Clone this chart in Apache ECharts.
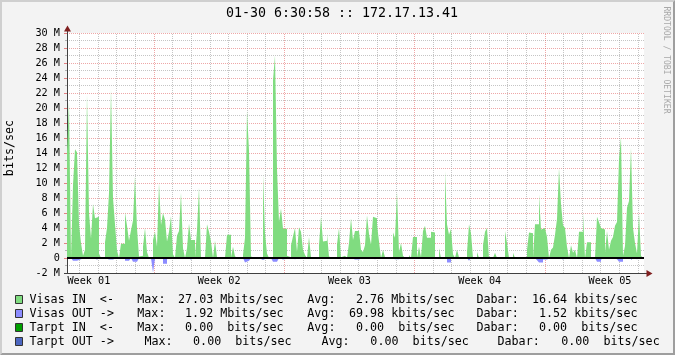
<!DOCTYPE html>
<html><head><meta charset="utf-8">
<script src="https://cdn.jsdelivr.net/npm/echarts@6/dist/echarts.min.js"></script>
<style>html,body{margin:0;padding:0;background:#f3f3f3}#c{width:675px;height:355px}</style>
</head><body><div id="c"></div>
<script>
// ---------------- data ----------------
const titleText = '01-30 6:30:58 :: 172.17.13.41';
const yUnitLabel = 'bits/sec';
const watermarkText = 'RRDTOOL / TOBI OETIKER';
const DAYS_SHOWN = 31;                 // x axis span in days
const SAMPLE_DAYS = 31 / 288.5;        // one sample per 2 px column pair
const FIRST_DAY_BOUNDARY = 0.674;      // days after left edge
const FIRST_WEEK_BOUNDARY = 4.674;
const weekLabels = ['Week 01', 'Week 02', 'Week 03', 'Week 04', 'Week 05'];
const yTickValues = [-2, 0, 2, 4, 6, 8, 10, 12, 14, 16, 18, 20, 22, 24, 26, 28, 30];

// Visas IN (Mbit/s)
const inValues = [
 14.3,20.8,0,9.7,14.5,14.1,4.5,2.0,0.3,1.1, 21.8,6.0,2.6,7.2,5.3,5.5,0.6,0,0,2.1,
 4.0,8.7,22.5,8.0,4.5,1.0,0,1.9,1.9,6.1, 4.3,2.3,3.7,5.0,10.9,4.0,0.2,0.3,1.5,4.0,
 0.8,0,0,2.4,3.5,1.5,10.0,4.4,6.0,5.1, 2.2,3.5,5.6,0.5,0,3.0,3.6,8.7,1.3,0,
 1.3,4.6,2.4,2.4,0.1,3.7,9.4,0,0,0, 4.5,3.5,2.2,0,2.3,0.1,0,0,0,0,
 3.1,3.1,0.1,1.5,0.2,0,0,0,0.4,2.7, 19.6,14.3,0.2,0,0,0,0,0.1,11.1,3.3,
 0.6,0,0.1,23.7,27.0,11.9,4.8,6.6,3.9,3.9, 0.3,0.1,1.7,2.9,4.0,0.8,4.1,3.5,1.1,0.4,
 0,2.8,0.1,0,0,0,1.7,5.5,2.2,2.3, 3.2,0.2,0,0,0,1.8,4.0,0.1,0.3,0.5,
 0,2.0,5.3,2.4,3.6,3.6,3.6,1.1,0.8,1.7, 5.7,3.2,1.8,5.5,5.3,4.5,2.2,0,1.1,0.1,
 0,0,0,3.4,2.7,8.8,0.8,2.0,0.3,0, 0,0.4,0,2.8,2.8,0.1,1.5,0.1,3.6,4.3,
 2.7,2.7,3.5,3.4,0.1,0.1,1.3,0,0,11.6, 4.5,3.1,3.9,0.5,0,1.1,0.1,0,0,0,
 0.8,4.5,3.3,0,0,0.8,0,0,1.7,3.5, 4.0,0,0,0,0.7,0,0,0,0.1,3.6,
 2.0,0,0,0.7,0,0,0,0,0,0, 1.1,3.4,3.3,0.1,4.5,4.5,8.5,3.8,4.0,4.0,
 2.8,0,1.1,1.4,3.1,5.2,12.0,7.2,4.4,4.0, 1.5,0,1.7,0.7,1.1,0,3.5,3.5,6.0,0,
 2.1,2.1,0,0,0,5.5,4.8,4.0,3.8,0.7, 3.6,1.1,2.3,2.8,4.3,4.8,13.2,16.1,0.3,1.6,
 6.7,7.6,14.7,4.0,2.0,0.6,5.9,0.3,0
];
// Visas OUT (Mbit/s, drawn below zero)
const outValues = [
 0,0,0,0.35,0.35,0.35,0.15,0,0,0, 0,0,0,0.2,0.2,0.2,0,0,0,0.2,
 0.2,0.2,0.2,0.2,0,0,0,0,0,0.35, 0.35,0.5,0,0.5,0.5,0.5,0,0,0,0,
 0,0,0,1.92,0.1,0,0,0,0.75,0.75, 0.15,0,0,0,0,0,0,0,0,0,
 0.2,0.2,0.2,0,0,0,0,0,0,0, 0,0,0,0,0,0,0,0,0,0,
 0.15,0,0,0,0,0,0,0,0,0.6, 0.35,0.35,0,0,0,0,0,0.25,0.25,0,
 0,0,0,0.5,0.5,0.35,0,0.2,0.2,0.1, 0,0,0,0.15,0.15,0,0.2,0.1,0,0,
 0,0,0,0,0,0,0.15,0,0,0, 0,0,0,0,0,0,0,0,0,0,
 0,0,0.2,0.2,0.35,0.2,0,0,0,0, 0,0,0,0.15,0,0,0,0,0,0,
 0,0,0,0.15,0.15,0.15,0,0,0,0, 0,0,0,0,0,0,0,0,0,0,
 0,0,0,0,0,0,0,0,0,0, 0.6,0.6,0,0,0,0,0,0,0,0,
 0,0.35,0,0,0,0,0,0,0,0, 0,0,0,0,0,0,0,0,0,0,
 0,0,0,0,0,0,0,0,0,0, 0,0,0,0,0,0.3,0.6,0.6,0.2,0.2,
 0,0,0,0,0,0,0.2,0.2,0,0, 0,0,0,0,0,0,0,0,0.15,0,
 0,0,0,0,0,0.5,0.5,0.2,0,0, 0,0,0,0,0.15,0,0.5,0.5,0,0,
 0,0,0.3,0,0.15,0,0,0,0
];

// legend
const legendNames = ['Visas IN  <-', 'Visas OUT ->', 'Tarpt IN  <-', 'Tarpt OUT ->'];
const legendColors = ['#80dc80', '#8c8cff', '#00a000', '#4c66c0'];
const legendMax = [27.03, 1.92, 0.00, 0.00];
const legendMaxPrefix = ['M', 'M', '', ''];
const legendAvg = [2.76, 69.98, 0.00, 0.00];
const legendAvgPrefix = ['M', 'k', '', ''];
const legendCur = [16.64, 1.52, 0.00, 0.00];
const legendCurPrefix = ['k', 'k', '', ''];

// ---------------- styling / layout ----------------
const MONO = '"DejaVu Sans Mono", monospace';
const IN_COLOR = legendColors[0];
const OUT_COLOR = legendColors[1];
const GRID_MINOR = 'rgba(150,150,150,0.55)';
const GRID_MAJOR = 'rgba(222,80,80,0.5)';
const AXIS_COLOR = '#404040';
const ARROW_COLOR = '#801f1f';

const dayLines = [];
for (let d = FIRST_DAY_BOUNDARY; d < DAYS_SHOWN; d += 1) dayLines.push(d);
const weekLines = [];
for (let d = FIRST_WEEK_BOUNDARY; d < DAYS_SHOWN; d += 7) weekLines.push(d);
const weekCenters = weekLabels.map((_, k) => FIRST_WEEK_BOUNDARY - 3.5 + 7 * k);

const isWeek = d => weekLines.some(w => Math.abs(w - d) < 1e-6);
const gridMarkData = dayLines.map(d => ({
  xAxis: d,
  lineStyle: { color: isWeek(d) ? GRID_MAJOR : GRID_MINOR, type: [1, 1], width: 1 }
}));

const fmtField = (v, p) => v.toFixed(2).padStart(6, ' ') + ' ' + (p || ' ') + 'bits/sec';

const legendRowY = [299.5, 313.5, 327.5, 341.5];
const legendColX = [
  [29.5, 137.3, 171, 307.3, 341.9, 476.5, 524.9],
  [29.5, 137.3, 171, 307.3, 341.9, 476.5, 524.9],
  [29.5, 137.3, 171, 307.3, 341.9, 476.5, 524.9],
  [29.5, 144.5, 179, 321.5, 356.3, 497.5, 547.1]
];
const legendFont = '11.7px ' + MONO;
const graphics = [];
// frame shading
graphics.push({ type: 'polygon', silent: true, shape: { points: [[0,0],[675,0],[673,2],[2,2],[2,353],[0,355]] }, style: { fill: '#cfcfcf' } });
graphics.push({ type: 'polygon', silent: true, shape: { points: [[675,0],[675,355],[0,355],[2,353],[673,353],[673,2]] }, style: { fill: '#9e9e9e' } });
// title
graphics.push({ type: 'text', silent: true, x: 342, y: 14, style: { text: titleText, font: '13.3px ' + MONO, fill: '#000', textAlign: 'center', textVerticalAlign: 'middle' } });
// unit label
graphics.push({ type: 'text', silent: true, x: 10, y: 148, rotation: Math.PI / 2, style: { text: yUnitLabel, font: '11.7px ' + MONO, fill: '#000', textAlign: 'center', textVerticalAlign: 'middle' } });
// watermark
graphics.push({ type: 'text', silent: true, x: 666, y: 60, rotation: -Math.PI / 2, style: { text: watermarkText, font: '8.1px ' + MONO, fill: '#a8a8a8', textAlign: 'center', textVerticalAlign: 'middle' } });
// axis extensions and arrows
graphics.push({ type: 'line', silent: true, z: 10, shape: { x1: 67.5, y1: 31, x2: 67.5, y2: 33 }, style: { stroke: AXIS_COLOR, lineWidth: 1 } });
graphics.push({ type: 'polygon', silent: true, z: 10, shape: { points: [[64, 31.5], [71, 31.5], [67.5, 25.5]] }, style: { fill: ARROW_COLOR } });
graphics.push({ type: 'line', silent: true, z: 10, shape: { x1: 64, y1: 273.5, x2: 67, y2: 273.5 }, style: { stroke: AXIS_COLOR, lineWidth: 1 } });
graphics.push({ type: 'line', silent: true, z: 10, shape: { x1: 644, y1: 273.5, x2: 647, y2: 273.5 }, style: { stroke: AXIS_COLOR, lineWidth: 1 } });
graphics.push({ type: 'polygon', silent: true, z: 10, shape: { points: [[646.5, 270], [646.5, 277], [652.5, 273.5]] }, style: { fill: ARROW_COLOR } });
// legend
legendNames.forEach((name, r) => {
  const y = legendRowY[r];
  const xs = legendColX[r];
  graphics.push({ type: 'rect', silent: true, shape: { x: 15.5, y: y - 4, width: 7, height: 8 }, style: { fill: legendColors[r], stroke: '#333', lineWidth: 1 } });
  const parts = [name, 'Max:', fmtField(legendMax[r], legendMaxPrefix[r]), 'Avg:', fmtField(legendAvg[r], legendAvgPrefix[r]), 'Dabar:', fmtField(legendCur[r], legendCurPrefix[r])];
  parts.forEach((t, k) => {
    graphics.push({ type: 'text', silent: true, x: xs[k], y: y, style: { text: t, font: legendFont, fill: '#000', textAlign: 'left', textVerticalAlign: 'middle' } });
  });
});

const times = inValues.map((_, i) => i * SAMPLE_DAYS);

const chart = echarts.init(document.getElementById('c'), null, { renderer: 'canvas' });
chart.setOption({
  animation: false,
  backgroundColor: '#f3f3f3',
  grid: { left: 67, top: 33, width: 577, height: 240, show: true, backgroundColor: '#ffffff', borderWidth: 0, containLabel: false, outerBoundsMode: 'none' },
  xAxis: {
    type: 'value', min: 0, max: DAYS_SHOWN,
    axisLine: { show: true, onZero: false, lineStyle: { color: AXIS_COLOR, width: 1 } },
    axisTick: { show: false },
    splitLine: { show: false },
    axisLabel: {
      show: true, customValues: weekCenters, margin: 3,
      fontFamily: MONO, fontSize: 10.2, color: '#000',
      formatter: v => { const k = weekCenters.findIndex(c => Math.abs(c - v) < 1e-6); return k >= 0 ? weekLabels[k] : ''; }
    }
  },
  yAxis: {
    type: 'value', min: yTickValues[0], max: yTickValues[yTickValues.length - 1], interval: 2,
    axisLine: { show: true, lineStyle: { color: AXIS_COLOR, width: 1 } },
    axisTick: { show: true, length: 3, lineStyle: { color: 'rgba(222,80,80,0.7)' } },
    minorTick: { show: true, splitNumber: 2, length: 2, lineStyle: { color: 'rgba(150,150,150,0.7)' } },
    splitLine: { show: true, lineStyle: { color: GRID_MAJOR, type: [1, 1], width: 1 } },
    minorSplitLine: { show: true, lineStyle: { color: GRID_MINOR, type: [1, 1], width: 1 } },
    axisLabel: { margin: 7, fontFamily: MONO, fontSize: 10.2, color: '#000', formatter: v => (v === 0 ? '0' : v + ' M') }
  },
  series: [
    {
      type: 'line', name: 'Visas IN', step: 'end', symbol: 'none', showSymbol: false, silent: true, z: 3,
      data: inValues.map((v, i) => [times[i], v]),
      lineStyle: { width: 0, opacity: 0 },
      areaStyle: { color: IN_COLOR, opacity: 1 },
      markLine: { silent: true, z: 10, symbol: ['none', 'none'], label: { show: false }, emphasis: { disabled: true },
        data: [{ yAxis: 0, lineStyle: { color: '#000', width: 2, type: 'solid' } }] }
    },
    {
      type: 'line', name: 'Visas OUT', step: 'end', symbol: 'none', showSymbol: false, silent: true, z: 4,
      data: outValues.map((v, i) => [times[i], -v]),
      lineStyle: { width: 0, opacity: 0 },
      areaStyle: { color: OUT_COLOR, opacity: 1 },
      markLine: { silent: true, z: 1, symbol: ['none', 'none'], label: { show: false }, emphasis: { disabled: true },
        data: gridMarkData }
    }
  ],
  graphic: { elements: graphics }
});
</script></body></html>
